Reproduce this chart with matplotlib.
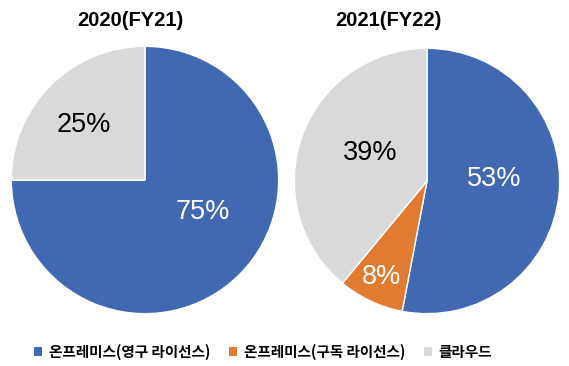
import matplotlib
matplotlib.use("Agg")
import matplotlib.pyplot as plt
from matplotlib.patches import Patch

plt.rcParams['font.family'] = ['Liberation Sans', 'Noto Sans CJK KR', 'DejaVu Sans']

titles = ["2020(FY21)", "2021(FY22)"]
categories = ["온프레미스(영구 라이선스)", "온프레미스(구독 라이선스)", "클라우드"]
values_2020 = [75, 0, 25]
values_2021 = [53, 8, 39]
colors = ["#4169B1", "#E07B31", "#D9D9D9"]
text_colors = ["white", "white", "black"]

# label positions in pie-radius units (per category), for each pie
label_pos = [
    [(0.43, -0.24), None, (-0.46, 0.41)],
    [(0.51, 0.015), (-0.34, -0.72), (-0.43, 0.21)],
]

W, H = 569, 366
fig = plt.figure(figsize=(W / 100, H / 100), dpi=100)

# axes boxes in pixels: left, top, size
boxes = [(10, 45, 270), (293, 47, 268)]
title_x = [130, 388]

for i, vals in enumerate([values_2020, values_2021]):
    l, t, s = boxes[i]
    ax = fig.add_axes([l / W, (H - t - s) / H, s / W, s / H])
    ax.pie(vals, colors=colors, startangle=90, counterclock=False,
           wedgeprops=dict(edgecolor="white", linewidth=1.0), radius=1)
    ax.set_xlim(-1.01, 1.01)
    ax.set_ylim(-1.01, 1.01)
    ax.set_aspect("equal")
    ax.axis("off")
    for j, v in enumerate(vals):
        if v <= 0 or label_pos[i][j] is None:
            continue
        x, y = label_pos[i][j]
        ax.text(x, y, f"{v}%", ha="center", va="center", fontsize=19.5,
                color=text_colors[j], family=['Liberation Sans', 'DejaVu Sans'])
    fig.text(title_x[i] / W, 1 - 20 / H, titles[i], ha="center", va="center",
             fontsize=14.5, fontweight="bold", family=['Liberation Sans', 'DejaVu Sans'])

handles = [Patch(facecolor=c, edgecolor="none") for c in colors]
fig.legend(handles, categories, loc="center", bbox_to_anchor=(263 / W, 1 - 352 / H),
           ncol=3, frameon=False, handlelength=0.55, handleheight=0.55,
           handletextpad=0.5, columnspacing=1.25,
           prop=dict(family=['Noto Sans CJK KR', 'DejaVu Sans'], weight='bold', size=10.5))

fig.savefig("out.png", dpi=100, facecolor="white")
